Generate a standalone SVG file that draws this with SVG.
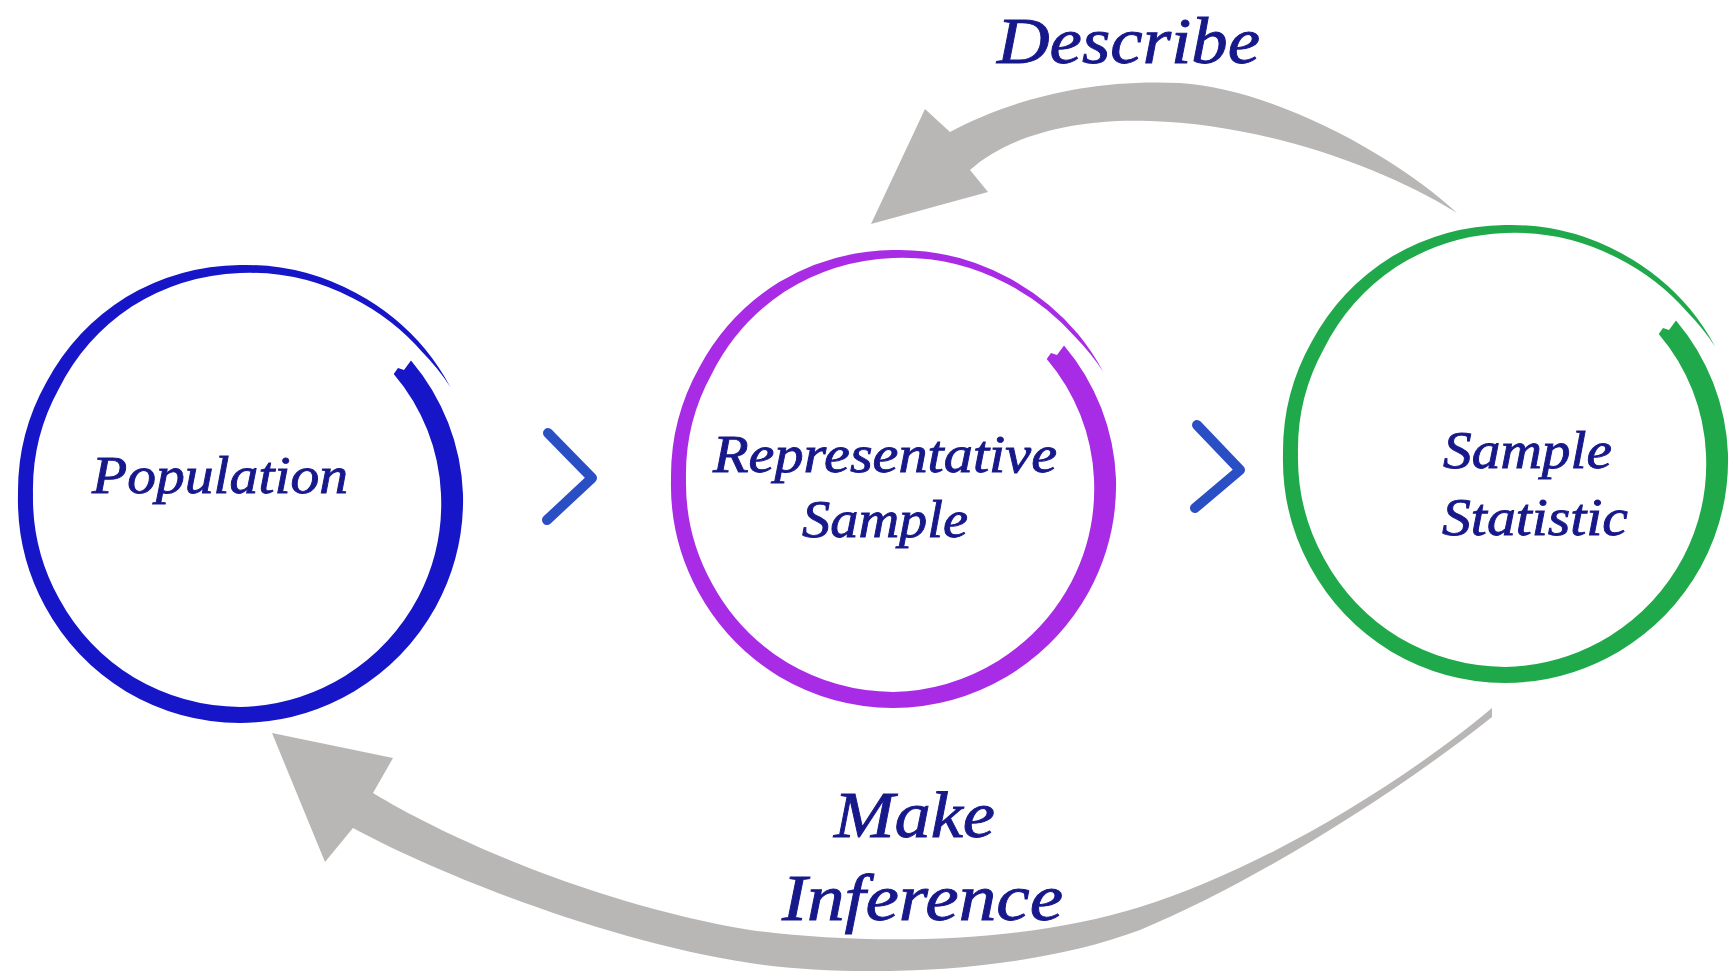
<svg xmlns="http://www.w3.org/2000/svg" xmlns:xlink="http://www.w3.org/1999/xlink" width="1733" height="978" viewBox="0 0 1733 978">
  <style>
    .lbl { font-family: "Liberation Serif", "DejaVu Serif", serif; font-style: italic; fill: #17188a; stroke: #17188a; stroke-width: 0.9; }
    .node-lbl { font-size: 52px; }
    .edge-lbl { font-size: 66px; }
    .arrow { fill: #b9b6b6; }
    .chev { fill: none; stroke: #2a4fc4; stroke-width: 10; stroke-linecap: round; stroke-linejoin: round; }
  </style>
  <defs>
    <path id="ring" d="M171,-133.6 A220,220 0 0 1 223,0 A225,225 0 0 1 195.7,113 A227,227 0 0 1 114,197.4 A228.5,228.5 0 0 1 0,229 A228.5,228.5 0 0 1 -114,197.4 A226.5,226.5 0 0 1 -194.9,112.5 A223.5,223.5 0 0 1 -222,0 A223,223 0 0 1 -193.6,-111.75 A225.5,225.5 0 0 1 -113.75,-197 A228,228 0 0 1 0,-229 A230.5,230.5 0 0 1 116,-200.9 A233.5,233.5 0 0 1 185.2,-144.7 A235.5,235.5 0 0 1 210.3,-107.1 A233.5,233.5 0 0 0 182,-142.2 A228.5,228.5 0 0 0 113,-195.7 A223.5,223.5 0 0 0 0,-221 A219,219 0 0 0 -108.25,-187.5 A213,213 0 0 0 -181.4,-104.75 A208,208 0 0 0 -207,0 A208,208 0 0 0 -181,104.5 A210.5,210.5 0 0 0 -106,183.6 A212.5,212.5 0 0 0 0,213 A211.5,211.5 0 0 0 105,181.9 A208,208 0 0 0 178.4,103 A203.5,203.5 0 0 0 201,0 A198,198 0 0 0 153.7,-120.1 L158,-126 L164,-124 Z"/>
  </defs>
  <rect width="1733" height="978" fill="#ffffff"/>

  <g id="connectors">
    <path id="arrow-describe" class="arrow" d="M1457,213 C1400,160 1280,90 1180,83 C1080,78 1000,105 950,132 L925,109 L871,224 L988,192 L970,170 C1005,138 1070,118 1150,121 C1260,124 1380,165 1457,213 Z"/>
    <path id="arrow-inference" class="arrow" d="M393,758 L272,733 L325,862 L353,828 C430,870 600,940 750,963 C850,978 1020,975 1140,930 C1260,880 1400,790 1492,717 L1492,708 C1400,785 1260,870 1140,907 C1020,945 860,945 750,930 C600,905 450,840 373,793 Z"/>
    <polyline id="chevron-1" class="chev" points="548,433 592,478 547,520"/>
    <polyline id="chevron-2" class="chev" points="1197,425 1240,470 1195,508"/>
    <text class="lbl edge-lbl" x="997" y="63" textLength="263" lengthAdjust="spacingAndGlyphs">Describe</text>
    <text class="lbl edge-lbl" x="834" y="837" textLength="161" lengthAdjust="spacingAndGlyphs">Make</text>
    <text class="lbl edge-lbl" x="782" y="920" textLength="281" lengthAdjust="spacingAndGlyphs">Inference</text>
  </g>

  <g id="node-population">
    <use xlink:href="#ring" href="#ring" transform="translate(240,494)" fill="#1616c8"/>
    <text class="lbl node-lbl" x="92" y="493" textLength="256" lengthAdjust="spacingAndGlyphs">Population</text>
  </g>

  <g id="node-representative-sample">
    <use xlink:href="#ring" href="#ring" transform="translate(893,479)" fill="#a82be6"/>
    <text class="lbl node-lbl" x="713" y="472" textLength="344" lengthAdjust="spacingAndGlyphs">Representative</text>
    <text class="lbl node-lbl" x="802" y="537" textLength="166" lengthAdjust="spacingAndGlyphs">Sample</text>
  </g>

  <g id="node-sample-statistic">
    <use xlink:href="#ring" href="#ring" transform="translate(1505,454)" fill="#1fa94b"/>
    <text class="lbl node-lbl" x="1443" y="468" textLength="169" lengthAdjust="spacingAndGlyphs">Sample</text>
    <text class="lbl node-lbl" x="1442" y="535" textLength="186" lengthAdjust="spacingAndGlyphs">Statistic</text>
  </g>
</svg>
